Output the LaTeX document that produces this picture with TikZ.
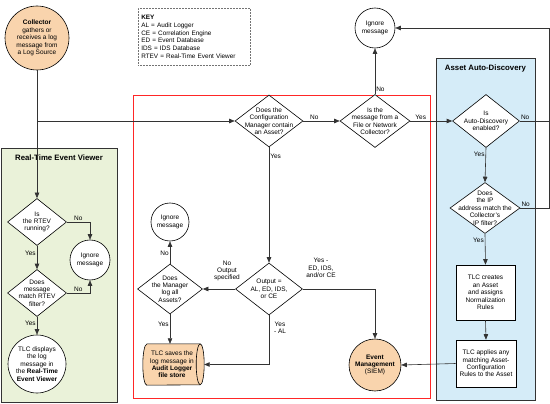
\documentclass[tikz,border=0pt]{standalone}
\usepackage{fontspec}
\setmainfont{Liberation Sans}
\usetikzlibrary{shapes.geometric,arrows.meta,calc}
\definecolor{peach}{HTML}{F9D4AD}
\definecolor{ablue}{HTML}{D5ECF8}
\definecolor{rgreen}{HTML}{EAF2D9}
\definecolor{ln}{HTML}{333333}
\begin{document}
\begin{tikzpicture}[x=1pt,y=-1pt,
  txt/.style={font=\fontsize{6.5}{7.4}\selectfont, align=center},
  circ/.style={circle, draw=black, line width=0.6pt, fill=white, inner sep=0pt, txt},
  dia/.style={diamond, draw=black, line width=0.6pt, fill=white, inner sep=0pt},
  pbox/.style={rectangle, draw=black, line width=0.6pt, fill=white, txt, inner sep=1pt},
  lbl/.style={txt, inner sep=0pt},
  conn/.style={draw=ln, line width=0.6pt},
  arr/.style={conn, -{Triangle[length=5.5pt,width=4.5pt]}},
  el/.style={txt, inner sep=1pt},
  ttl/.style={font=\fontsize{7.8}{9}\selectfont\bfseries, inner sep=0pt}]

\useasboundingbox (0,0) rectangle (550,404);

% regions
\node[draw=black!55, densely dotted, line width=0.5pt, anchor=north west,
      minimum width=112, minimum height=57, text width=106pt, align=left,
      inner sep=3pt, font=\fontsize{6.4}{7.7}\selectfont] (key) at (138,8)
  {\textbf{KEY}\\AL = Audit Logger\\CE = Correlation Engine\\ED = Event Database\\IDS = IDS Database\\RTEV = Real-Time Event Viewer};

\node[draw=red!85, line width=0.6pt, anchor=north west, minimum width=297, minimum height=303, inner sep=0pt] (redbox) at (133,95) {};
\node[draw=black!80, fill=rgreen, line width=0.6pt, anchor=north west, minimum width=116, minimum height=254, inner sep=0pt] (rtevbox) at (1,148) {};
\node[ttl] (rtevttl) at (59,158) {Real-Time Event Viewer};
\node[draw=black!80, fill=ablue, line width=0.6pt, anchor=north west, minimum width=99, minimum height=342, inner sep=0pt] (adbox) at (436,58) {};
\node[ttl] (adttl) at (485.5,68) {Asset Auto-Discovery};

% main nodes
\node[circ, fill=peach, minimum size=64] (coll) at (37,38)
  {\textbf{Collector}\\gathers or\\receives a log\\message from\\a Log Source};
\node[dia, minimum width=68, minimum height=52,
  label={[lbl]center:{Does the\\Configuration\\Manager contain\\an Asset?}}] (cm) at (269,121) {};
\node[dia, minimum width=70, minimum height=53,
  label={[lbl]center:{Is the\\message from a\\File or Network\\Collector?}}] (fn) at (375,121) {};
\node[circ, minimum size=40] (ign1) at (375,28) {Ignore\\message};
\node[dia, minimum width=67, minimum height=53,
  label={[lbl]center:{Is\\Auto-Discovery\\enabled?}}] (ad1) at (486,121) {};
\node[dia, minimum width=70, minimum height=51,
  label={[lbl]center:{Does\\the IP\\address match the\\Collector's\\IP filter?}}] (ip) at (485,208) {};
\node[pbox, minimum width=59, minimum height=55] (create) at (485.5,292.5)
  {TLC creates\\an Asset\\and assigns\\Normalization\\Rules};
\node[pbox, minimum width=60, minimum height=47] (apply) at (486,363.5)
  {TLC applies any\\matching Asset-\\Configuration\\Rules to the Asset};
\node[circ, fill=peach, minimum size=52] (em) at (375,365)
  {\textbf{Event}\\\textbf{Management}\\(SIEM)};
\node[dia, minimum width=67, minimum height=52,
  label={[lbl]center:{Output =\\AL, ED, IDS,\\or CE}}] (out) at (269,289) {};
\node[dia, minimum width=65, minimum height=50,
  label={[lbl]center:{Does\\the Manager\\log all\\Assets?}}] (mgr) at (170,289) {};
\node[circ, minimum size=38] (ign2) at (170,222) {Ignore\\message};

% cylinder (audit logger file store)
\node[rectangle, draw=none, minimum width=61, minimum height=41, inner sep=0pt] (cyl) at (173.5,364.5) {};
\draw[fill=peach, line width=0.6pt]
  ($(cyl.north west)+(4,0)$) -- ($(cyl.north east)+(-4,0)$)
  arc[start angle=-90, end angle=90, x radius=4, y radius=20.5]
  -- ($(cyl.south west)+(4,0)$)
  arc[start angle=90, end angle=270, x radius=4, y radius=20.5] -- cycle;
\draw[line width=0.6pt] ($(cyl.north east)+(-4,0)$)
  arc[start angle=-90, end angle=-270, x radius=4, y radius=20.5];
\node[lbl] (cyltxt) at (172,364.5) {TLC saves the\\log message in\\\textbf{Audit Logger}\\\textbf{file store}};

\node[dia, minimum width=59, minimum height=47,
  label={[lbl]center:{Is\\the RTEV\\running?}}] (rtev1) at (37,222) {};
\node[dia, minimum width=59, minimum height=47,
  label={[lbl]center:{Does\\message\\match RTEV\\filter?}}] (rtev2) at (37,293) {};
\node[circ, minimum size=40] (ign3) at (90,260) {Ignore\\message};
\node[circ, minimum size=58] (disp) at (37,364)
  {TLC displays\\the log\\message in\\the \textbf{Real-Time}\\\textbf{Event Viewer}};

% connectors
\coordinate (jn) at (coll.south |- cm.west);
\coordinate (rc) at (549,28);
\draw[arr] (coll.south) -- (rtev1.north);
\draw[arr] (jn) -- (cm.west);
\draw[arr] (cm.east) -- node[el, above, pos=0.3] (l1) {No} (fn.west);
\draw[arr] (fn.north) -- node[el, right, pos=0.1] (l2) {No} (ign1.south);
\draw[arr] (fn.east) -- node[el, above, pos=0.25] (l3) {Yes} (ad1.west);
\draw[arr] (ad1.east) -| (rc) -- (ign1.east);
\node[el, anchor=south west] (l4) at (ad1.east) {No};
\draw[conn] (ip.east) -| (rc);
\node[el, anchor=south west] (l5) at (ip.east) {No};
\draw[arr] (ad1.south) -- node[el, left, pos=0.2] (l6) {Yes} (ip.north);
\draw[arr] (ip.south) -- node[el, left, pos=0.2] (l7) {Yes} (create.north);
\draw[arr] (create.south) -- (apply.north);
\draw[arr] (apply.west) -- (em.east);
\draw[arr] (cm.south) -- node[el, right, pos=0.08] (l8) {Yes} (out.north);
\draw[arr] (out.east) -| (em.north);
\node[el] (l9) at (321,268) {Yes -\\ED, IDS,\\and/or CE};
\draw[arr] (out.west) -- (mgr.east);
\node[el] (l10) at (227,271) {No\\Output\\specified};
\draw[arr] (mgr.north) -- node[el, left, pos=0.45] (l11) {No} (ign2.south);
\draw[arr] (mgr.south) -- node[el, left, pos=0.35] (l12) {Yes} (mgr.south |- cyl.north);
\draw[arr] (out.south) |- (cyl.east);
\node[el] (l13) at (280,328) {Yes\\- AL};
\draw[arr] (rtev1.east) -| node[el, above, pos=0.25] (l14) {No} (ign3.north);
\draw[arr] (rtev2.east) -| node[el, above, pos=0.25] (l15) {No} (ign3.south);
\draw[arr] (rtev1.south) -- node[el, left, pos=0.3] (l16) {Yes} (rtev2.north);
\draw[arr] (rtev2.south) -- node[el, left, pos=0.35] (l17) {Yes} (disp.north);
\end{tikzpicture}
\end{document}
